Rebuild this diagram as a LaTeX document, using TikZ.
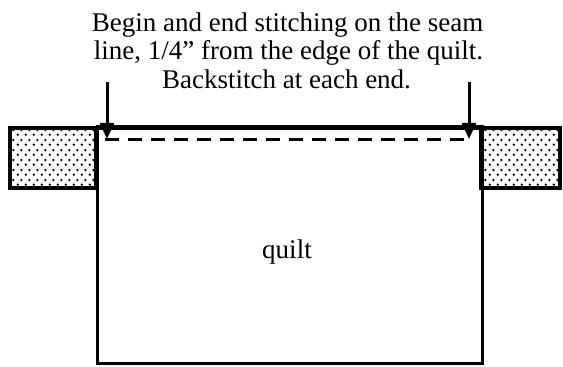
\documentclass[tikz,border=0pt]{standalone}
\usepackage{fontspec}
\setmainfont{Liberation Serif}
\usetikzlibrary{arrows.meta,patterns.meta}
\tikzdeclarepattern{
  name=quiltdots,
  type=colored,
  bottom left={(0pt,0pt)},
  top right={(8pt,10pt)},
  tile size={(8pt,10pt)},
  code={
    \fill[black] (2pt,2.5pt) circle (1.4pt);
    \fill[black] (6pt,7.5pt) circle (1.4pt);
  }
}
\tikzset{
  outline/.style={draw=black, line width=3.2pt},
  bordbox/.style={outline, pattern=quiltdots},
  seam/.style={draw=black, line width=3pt, dash pattern=on 14pt off 9pt},
  pointer/.style={draw=black, line width=3pt, -{Triangle[width=14pt,length=16pt]}},
  caption/.style={font=\fontsize{27}{29}\selectfont, anchor=base, inner sep=0pt},
}
\begin{document}
\begin{tikzpicture}[x=1pt,y=1pt]
\useasboundingbox (0,0) rectangle (563,367);
% border strips
\path[bordbox] (10,179) rectangle (96,239);
\path[bordbox] (481,179) rectangle (560,239);
% quilt
\node[outline, minimum width=385pt, minimum height=237.4pt, inner sep=0pt, anchor=south west] (quilt) at (96,1.6) {};
\node[caption] (qlabel) at (287,108) {quilt};
% top edge across all
\draw[outline] (10,239) -- (560,239);
% seam line
\coordinate (s1) at (105,227);
\coordinate (s2) at (471,227);
\draw[seam] (s1) -- (s2);
% arrows
\coordinate (a1s) at (107,285);
\coordinate (a1e) at (107,228);
\coordinate (a2s) at (469,285);
\coordinate (a2e) at (469,228);
\draw[pointer] (a1s) -- (a1e);
\draw[pointer] (a2s) -- (a2e);
% text
\node[caption] (t1) at (287.5,335) {Begin and end stitching on the seam};
\node[caption] (t2) at (288.5,307) {line, 1/4” from the edge of the quilt.};
\node[caption] (t3) at (286.5,278) {Backstitch at each end.};
\end{tikzpicture}
\end{document}
